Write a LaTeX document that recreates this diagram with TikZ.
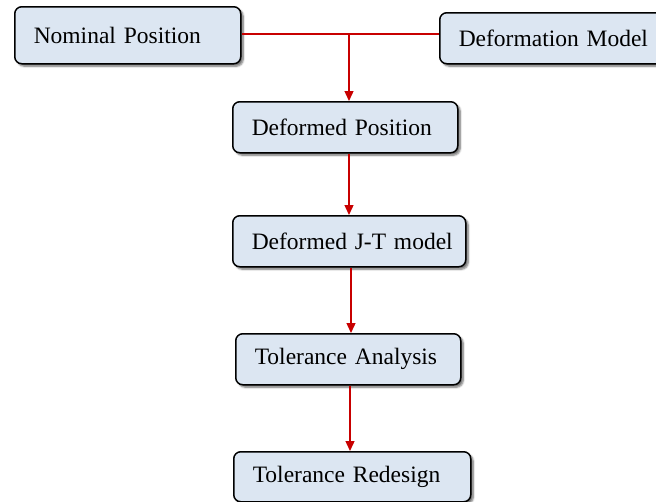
\documentclass[tikz,border=0pt]{standalone}
\usepackage{fontspec}
\setmainfont{Liberation Serif}
\usetikzlibrary{arrows.meta,shadows.blur}
\definecolor{boxfill}{HTML}{DCE6F2}
\definecolor{linkred}{HTML}{C80000}
\begin{document}
\begin{tikzpicture}[x=1pt,y=-1pt,
  stepbox/.style={draw=black, line width=1.5pt, rounded corners=7pt, fill=boxfill,
    align=left, inner xsep=19pt, inner ysep=0pt, minimum height=51pt, anchor=north west,
    font=\fontsize{23.5}{28}\selectfont,
    blur shadow={shadow xshift=2.5pt, shadow yshift=-2.5pt, shadow blur steps=5, shadow opacity=55}},
  link/.style={color=linkred, draw=linkred, line width=1.4pt},
  arr/.style={link, -{Triangle[length=10pt,width=9pt]}}]
\useasboundingbox (0,0) rectangle (656,501);
\node[stepbox, text width=188pt, minimum height=57pt] (nom) at (14,6) {\mbox{Nominal Position}};
\node[stepbox, text width=193pt] (defm) at (439,12) {\mbox{Deformation Model}};
\node[stepbox, text width=187pt] (dpos) at (232,101) {\mbox{Deformed Position}};
\node[stepbox, text width=195pt] (djt) at (232,215) {\mbox{Deformed J-T model}};
\node[stepbox, text width=187pt] (tana) at (235,333) {\mbox{Tolerance Analysis}};
\node[stepbox, text width=199pt, minimum height=50pt] (tred) at (233,451) {\mbox{Tolerance Redesign}};
\coordinate (j) at (349,34);
\coordinate (x2) at (351,0);
\coordinate (x3) at (350,0);
\draw[link] (nom.east |- j) -- (j) -- (defm.west |- j);
\draw[arr] (j) -- (dpos.north -| j);
\draw[arr] (dpos.south -| j) -- (djt.north -| j);
\draw[arr] (djt.south -| x2) -- (tana.north -| x2);
\draw[arr] (tana.south -| x3) -- (tred.north -| x3);
\end{tikzpicture}
\end{document}
